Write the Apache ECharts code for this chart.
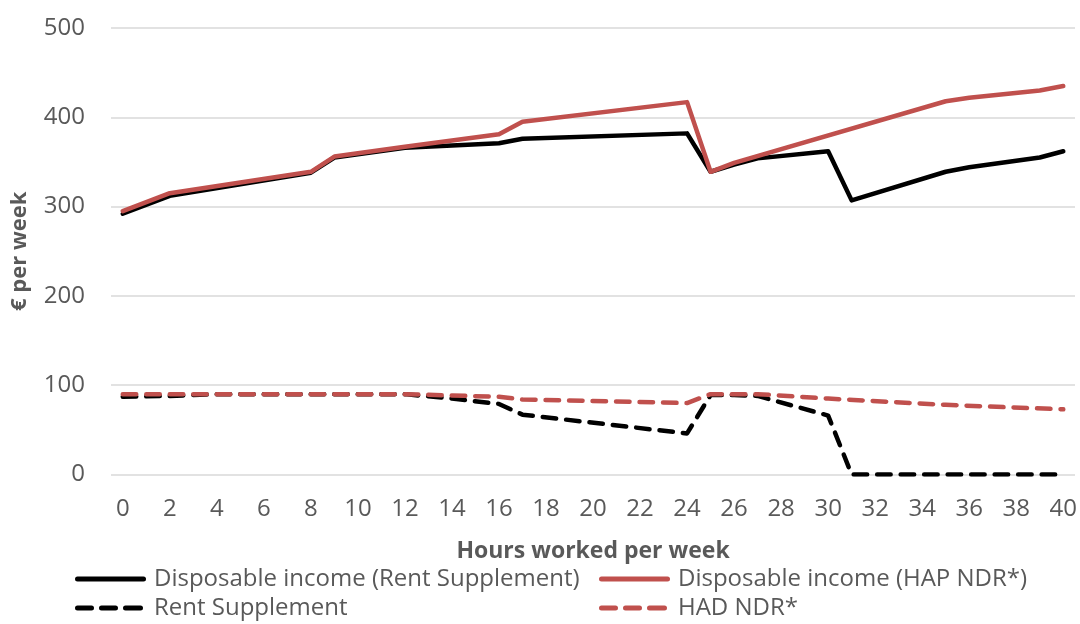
<!DOCTYPE html>
<html><head><meta charset="utf-8">
<script src="https://cdn.jsdelivr.net/npm/echarts@6/dist/echarts.min.js"></script>
<style>html,body{margin:0;padding:0;background:#fff}#c{width:1080px;height:624px}</style>
</head><body><div id="c"></div>
<script>
var seriesNames = ['Disposable income (Rent Supplement)', 'Disposable income (HAP NDR*)', 'Rent Supplement', 'HAD NDR*'];
var xTickLabels = ['0','2','4','6','8','10','12','14','16','18','20','22','24','26','28','30','32','34','36','38','40'];
// [hours, € per week] breakpoints
var dispRentSupp = [[0,292],[2,312],[8,338],[9,355],[12,366],[16,371],[17,376],[24,382],[25,339],[26,347],[27,354],[30,362],[31,307],[35,339],[36,344],[39,355],[40,362]];
var dispHap = [[0,295],[2,315],[8,339],[9,356],[12,367],[16,381],[17,395],[24,417],[25,339],[26,349],[35,418],[36,422],[39,430],[40,435]];
var rentSupp = [[0,87],[2,88],[4,90],[12,90],[14,85],[16,79],[17,67],[24,46],[25,89],[26,89],[27,88],[30,66],[31,0],[40,0]];
var hadNdr = [[0,90],[12,90],[16,87],[17,84],[24,80],[25,90],[27,90],[30,85],[35,78],[40,73]];

var FONT = '"Open Sans"';
var TXT = '#595959';
var RED = '#c0504d';
var chart = echarts.init(document.getElementById('c'));
function mk(name, data, color, dashed) {
  return {
    name: name, type: 'line', data: data, showSymbol: false, symbol: 'none',
    itemStyle: { color: color },
    lineStyle: { color: color, width: 4.5, type: dashed ? [13.5, 10] : 'solid', cap: 'round', join: 'round' },
    animation: false
  };
}
var SOLID_ICON = 'path://M2.5,0H68.5A2.5,2.5 0 0 1 68.5,5H2.5A2.5,2.5 0 0 1 2.5,0Z';
var DASH_ICON = 'path://M2.5,0H16.5A2.5,2.5 0 0 1 16.5,5H2.5A2.5,2.5 0 0 1 2.5,0Z M26.5,0H40.5A2.5,2.5 0 0 1 40.5,5H26.5A2.5,2.5 0 0 1 26.5,0Z M50.5,0H65.5A2.5,2.5 0 0 1 65.5,5H50.5A2.5,2.5 0 0 1 50.5,0Z';
function lg(name, left, top, color, dashed) {
  return {
    data: [{ name: name, icon: dashed ? DASH_ICON : SOLID_ICON }],
    left: left, top: top, padding: 0,
    itemWidth: dashed ? 68 : 71, itemHeight: 5,
    itemStyle: { color: color, borderWidth: 0 },
    lineStyle: { width: 0 },
    selectedMode: false,
    textStyle: { fontFamily: FONT, fontSize: 24, color: TXT, padding: [0, 0, 0, dashed ? 6 : 3] }
  };
}
chart.setOption({
  backgroundColor: '#fff',
  animation: false,
  grid: { left: 111, right: 2, top: 28, bottom: 149.5 },
  xAxis: {
    type: 'value', min: -0.5, max: 40.5, interval: 0.5,
    name: 'Hours worked per week', nameLocation: 'middle', nameGap: 65,
    nameTextStyle: { fontFamily: FONT, fontWeight: 'bold', fontSize: 23, color: TXT },
    axisLine: { show: false }, axisTick: { show: false }, splitLine: { show: false },
    axisLabel: { fontFamily: FONT, fontSize: 24, color: TXT, margin: 23, hideOverlap: false,
      formatter: function (v) { var s = String(v); return xTickLabels.indexOf(s) >= 0 ? s : ''; } }
  },
  yAxis: {
    type: 'value', min: 0, max: 500, interval: 100,
    name: '€ per week', nameLocation: 'middle', nameGap: 80,
    nameTextStyle: { fontFamily: FONT, fontWeight: 'bold', fontSize: 22, color: TXT },
    axisLine: { show: false }, axisTick: { show: false },
    splitLine: { lineStyle: { color: '#d9d9d9', width: 1.5 } },
    axisLabel: { fontFamily: FONT, fontSize: 24, color: TXT, margin: 26 }
  },
  legend: [
    lg(seriesNames[0], 75, 567, '#000000', false),
    lg(seriesNames[2], 75, 596, '#000000', true),
    lg(seriesNames[1], 599, 567, RED, false),
    lg(seriesNames[3], 599, 596, RED, true)
  ],
  series: [
    mk(seriesNames[0], dispRentSupp, '#000000', false),
    mk(seriesNames[1], dispHap, RED, false),
    mk(seriesNames[2], rentSupp, '#000000', true),
    mk(seriesNames[3], hadNdr, RED, true)
  ]
});
</script></body></html>
